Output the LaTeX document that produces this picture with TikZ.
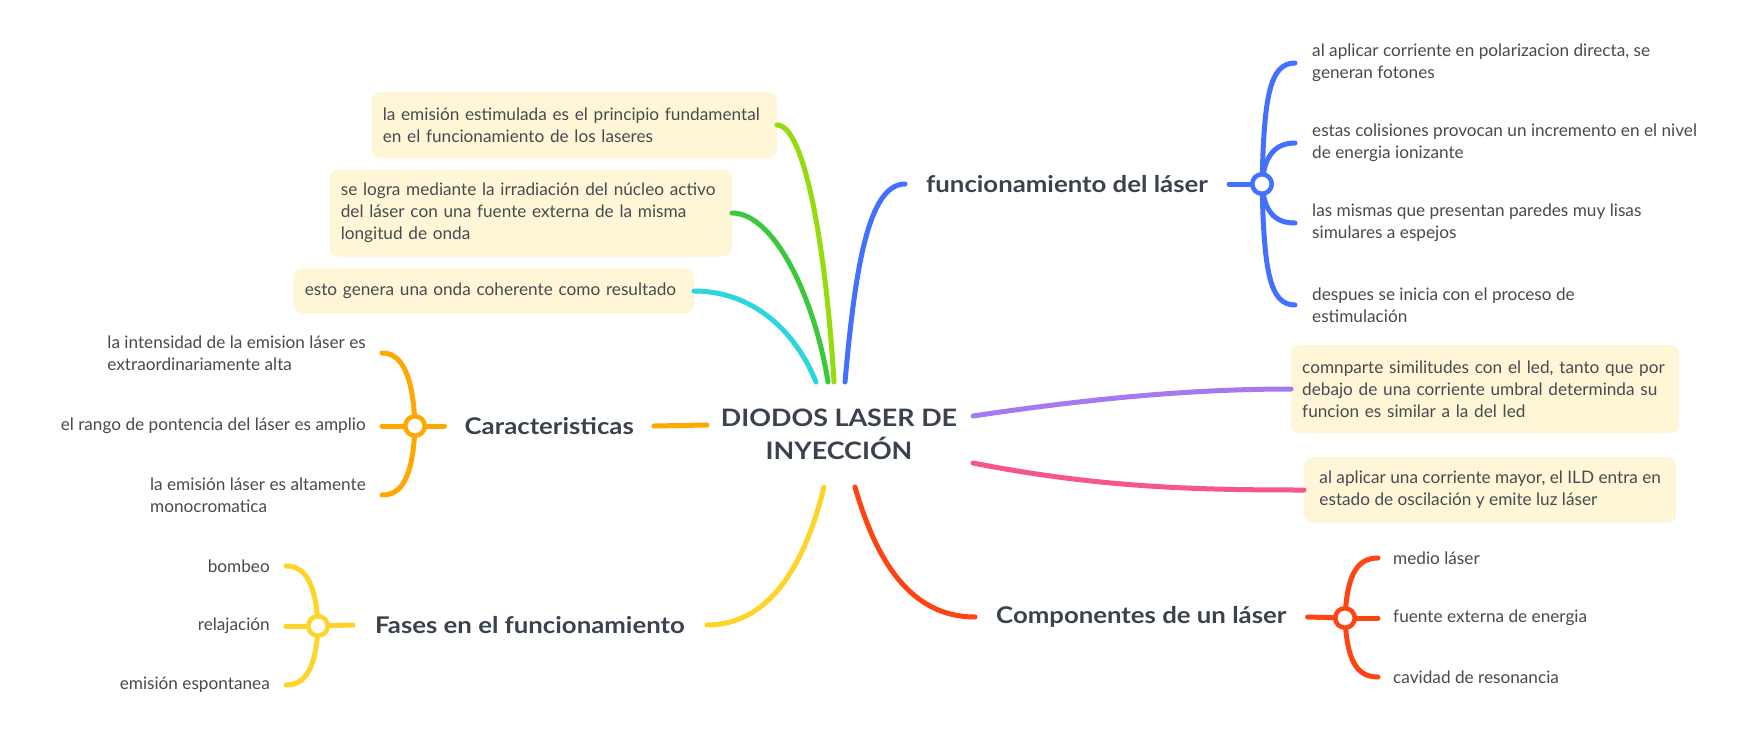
\documentclass[tikz,border=0pt]{standalone}
\usepackage{fontspec}
\setmainfont{Lato}
\newfontfamily\topicfont{Lato}[FakeStretch=1.12]
\usetikzlibrary{calc}
\definecolor{cblue}{RGB}{66,112,255}
\definecolor{clime}{RGB}{150,220,12}
\definecolor{cgreen}{RGB}{58,200,60}
\definecolor{ccyan}{RGB}{44,214,220}
\definecolor{corange}{RGB}{255,168,0}
\definecolor{cyellow}{RGB}{255,212,40}
\definecolor{cred}{RGB}{255,68,20}
\definecolor{cpurple}{RGB}{165,122,240}
\definecolor{cpink}{RGB}{246,86,142}
\definecolor{boxfill}{RGB}{254,246,214}
\definecolor{txtmain}{RGB}{58,66,78}
\definecolor{txtsub}{RGB}{72,74,80}
\tikzset{
  conn/.style={line width=5pt, line cap=round},
  hub/.style={circle, line width=4.5pt, fill=white, minimum size=19.5pt, inner sep=0pt},
  maintxt/.style={font=\topicfont\bfseries\fontsize{24}{33}\selectfont, text=txtmain, align=center, inner sep=0pt},
  topic/.style={font=\topicfont\bfseries\fontsize{23}{26}\selectfont, text=txtmain, inner ysep=0pt},
  sub/.style={font=\fontsize{17.2}{22}\selectfont, text=txtsub, align=left, inner ysep=0pt},
  cbox/.style={fill=boxfill, rounded corners=9pt, font=\fontsize{17.2}{22}\selectfont, text=txtsub, align=left, inner xsep=11pt, inner ysep=0pt}
}
\begin{document}
\begin{tikzpicture}[x=1pt,y=-1pt]
\fill[white] (0,0) rectangle (1750,747);
\useasboundingbox (0,0) rectangle (1750,747);

% central
\node[maintxt] (ctr) at (839,434) {DIODOS LASER DE\\INYECCIÓN};
\coordinate (oC) at (707,425);
\coordinate (lC) at (834,382);
\coordinate (gC) at (828,382);
\coordinate (cC) at (816,382);
\coordinate (bC) at (845,382);
\coordinate (yC) at (824,487);
\coordinate (rC) at (855,487);
\coordinate (pC) at (973,416);
\coordinate (kC) at (973,463);

% topics
\node[topic, anchor=west, inner xsep=21pt] (fun) at (905,184) {funcionamiento del láser};
\node[topic, anchor=west, inner xsep=21pt] (com) at (975,617) {Componentes de un láser};
\node[topic, anchor=east, inner xsep=20pt] (car) at (654,426) {Caracteristicas};
\node[topic, anchor=east, inner xsep=22pt] (fas) at (707,625) {Fases en el funcionamiento};

% hubs
\coordinate (hB) at (1262,184);
\coordinate (hK) at (1345,618);
\coordinate (hO) at (415,426);
\coordinate (hY) at (318,626);

% boxes
\node[cbox, anchor=east, text width=383pt, minimum height=66pt] (b1) at (777,125)
  {la emisión estimulada es el principio fundamental\\en el funcionamiento de los laseres};
\node[cbox, anchor=east, text width=380pt, minimum height=87pt] (b2) at (732,213)
  {se logra mediante la irradiación del núcleo activo\\del láser con una fuente externa de la misma\\longitud de onda};
\node[cbox, anchor=east, text width=378pt, minimum height=45pt] (b3) at (694,291)
  {esto genera una onda coherente como resultado};
\node[cbox, anchor=west, text width=366pt, minimum height=88pt] (p1) at (1291,389)
  {comnparte similitudes con el led, tanto que por\\debajo de una corriente umbral determinda su\\funcion es similar a la del led};
\node[cbox, anchor=west, inner xsep=0pt, minimum width=372pt, minimum height=66pt] (p2) at (1304,490)
  {al aplicar una corriente mayor, el ILD entra en\\estado de oscilación y emite luz láser};

% children
\node[sub, anchor=west, inner xsep=17pt] (f1) at (1295,63) {al aplicar corriente en polarizacion directa, se\\generan fotones};
\node[sub, anchor=west, inner xsep=17pt] (f2) at (1295,143) {estas colisiones provocan un incremento en el nivel\\de energia ionizante};
\node[sub, anchor=west, inner xsep=17pt] (f3) at (1295,223) {las mismas que presentan paredes muy lisas\\simulares a espejos};
\node[sub, anchor=west, inner xsep=17pt] (f4) at (1295,305) {despues se inicia con el proceso de\\estimulación};

\node[sub, anchor=west, inner xsep=15pt] (k1) at (1378,558) {medio láser};
\node[sub, anchor=west, inner xsep=15pt] (k2) at (1378,618) {fuente externa de energia};
\node[sub, anchor=west, inner xsep=15pt] (k3) at (1378,677) {cavidad de resonancia};

\node[sub, anchor=east, inner xsep=16pt] (c1) at (382,353) {la intensidad de la emision láser es\\extraordinariamente alta};
\node[sub, anchor=east, inner xsep=16pt] (c2) at (382,426) {el rango de pontencia del láser es amplio};
\node[sub, anchor=east, inner xsep=16pt] (c3) at (382,495) {la emisión láser es altamente\\monocromatica};

\node[sub, anchor=east, inner xsep=16pt] (y1) at (286,566) {bombeo};
\node[sub, anchor=east, inner xsep=16pt] (y2) at (286,626) {relajación};
\node[sub, anchor=east, inner xsep=16pt] (y3) at (286,685) {emisión espontanea};

% main connectors
\draw[conn,clime] (b1.east) .. controls (805,125) and (826,250) .. (lC);
\draw[conn,cgreen] (b2.east) .. controls (775,213) and (815,300) .. (gC);
\draw[conn,ccyan] (b3.east) .. controls (752,291) and (795,330) .. (cC);
\draw[conn,cblue] (bC) .. controls (855,270) and (868,184) .. (fun.west);
\draw[conn,corange] (car.east) -- (oC);
\draw[conn,cyellow] (fas.east) .. controls (772,625) and (806,560) .. (yC);
\draw[conn,cred] (rC) .. controls (876,560) and (910,617) .. (com.west);
\draw[conn,cpurple] (pC) .. controls (1100,397) and (1200,389) .. (p1.west);
\draw[conn,cpink] (kC) .. controls (1100,488) and (1200,490) .. (p2.west);

% blue sub-branch
\draw[conn,cblue] (fun.east) -- (hB);
\draw[conn,cblue] (hB) .. controls +(2,-85) and +(-26,0) .. (f1.west);
\draw[conn,cblue] (hB) .. controls +(2,-28) and +(-20,0) .. (f2.west);
\draw[conn,cblue] (hB) .. controls +(2,28) and +(-20,0) .. (f3.west);
\draw[conn,cblue] (hB) .. controls +(2,85) and +(-26,0) .. (f4.west);
\node[hub,draw=cblue] (hubB) at (hB) {};

% red sub-branch
\draw[conn,cred] (com.east) -- (hK);
\draw[conn,cred] (hK) .. controls +(2,-45) and +(-20,0) .. (k1.west);
\draw[conn,cred] (hK) -- (k2.west);
\draw[conn,cred] (hK) .. controls +(2,45) and +(-20,0) .. (k3.west);
\node[hub,draw=cred] (hubK) at (hK) {};

% orange sub-branch
\draw[conn,corange] (car.west) -- (hO);
\draw[conn,corange] (hO) .. controls +(-2,-55) and +(18,0) .. (c1.east);
\draw[conn,corange] (hO) -- (c2.east);
\draw[conn,corange] (hO) .. controls +(-2,55) and +(18,0) .. (c3.east);
\node[hub,draw=corange] (hubO) at (hO) {};

% yellow sub-branch
\draw[conn,cyellow] (fas.west) -- (hY);
\draw[conn,cyellow] (hY) .. controls +(-2,-45) and +(18,0) .. (y1.east);
\draw[conn,cyellow] (hY) -- (y2.east);
\draw[conn,cyellow] (hY) .. controls +(-2,45) and +(18,0) .. (y3.east);
\node[hub,draw=cyellow] (hubY) at (hY) {};
\end{tikzpicture}
\end{document}
